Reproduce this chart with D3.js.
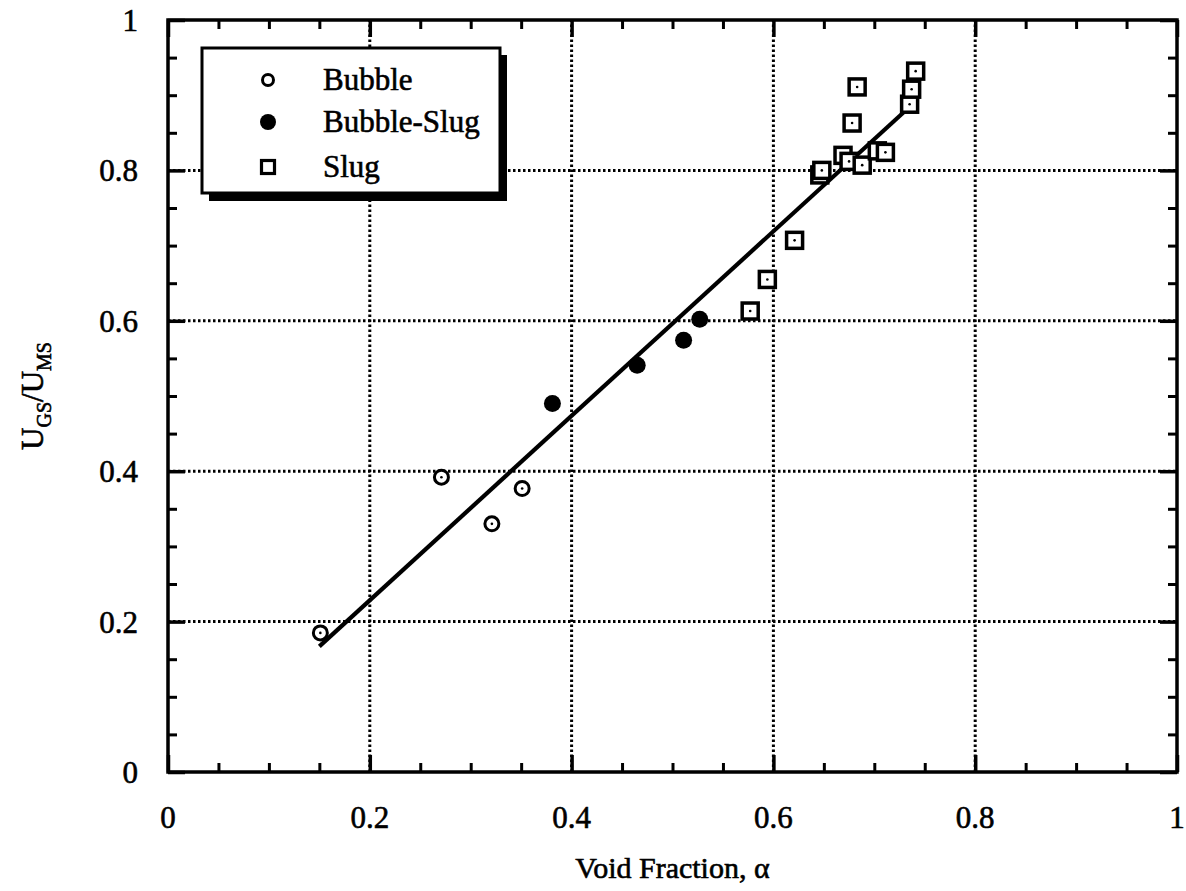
<!DOCTYPE html>
<html><head><meta charset="utf-8">
<script src="https://cdn.jsdelivr.net/npm/d3@7"></script>
<style>body{margin:0;background:#fff}svg{display:block}</style>
</head><body>
<script>
// Data
const bubbleX = [0.151, 0.271, 0.321, 0.351];
const bubbleY = [0.185, 0.392, 0.330, 0.377];
const bubbleSlugX = [0.381, 0.465, 0.511, 0.527];
const bubbleSlugY = [0.490, 0.541, 0.574, 0.602];
const slugX = [0.577, 0.594, 0.621, 0.646, 0.648, 0.669, 0.675, 0.678, 0.683, 0.688, 0.703, 0.711, 0.735, 0.737, 0.741];
const slugY = [0.613, 0.655, 0.707, 0.794, 0.800, 0.820, 0.812, 0.863, 0.911, 0.807, 0.826, 0.824, 0.888, 0.908, 0.932];
const fitX = [0.150, 0.737];
const fitY = [0.167, 0.887];
const tickValues = [0, 0.2, 0.4, 0.6, 0.8, 1];
const tickLabels = ["0", "0.2", "0.4", "0.6", "0.8", "1"];
const legendLabels = ["Bubble", "Bubble-Slug", "Slug"];

const W = 1186, H = 891;
const svg = d3.select("body").append("svg").attr("width", W).attr("height", H);
const x = d3.scaleLinear().domain([0, 1]).range([168, 1177]);
const y = d3.scaleLinear().domain([0, 1]).range([772, 20]);
const font = "'Liberation Serif', 'Times New Roman', serif";
const ink = sel => sel.attr("fill", "#000").attr("stroke", "#000").attr("stroke-width", 0.6);

// grid
const grid = svg.append("g").attr("stroke", "#000").attr("stroke-width", 3).attr("stroke-dasharray", "2.5,2.5");
[0.2, 0.4, 0.6, 0.8].forEach(v => {
  grid.append("line").attr("x1", x(v)).attr("x2", x(v)).attr("y1", y(0)).attr("y2", y(1));
  grid.append("line").attr("x1", x(0)).attr("x2", x(1)).attr("y1", y(v)).attr("y2", y(v));
});

// ticks (inward) via axes
const minor = d3.range(0, 1.0001, 0.05).filter(v => Math.abs(v * 5 - Math.round(v * 5)) > 1e-6);
function axisSet(axisFn, scale, tr) {
  svg.append("g").attr("transform", tr).call(axisFn(scale).tickValues(tickValues).tickSize(-17).tickFormat(""))
    .call(g => g.select(".domain").remove()).selectAll("line").attr("stroke-width", 3.5);
  svg.append("g").attr("transform", tr).call(axisFn(scale).tickValues(minor).tickSize(-9).tickFormat(""))
    .call(g => g.select(".domain").remove()).selectAll("line").attr("stroke-width", 3);
}
axisSet(d3.axisBottom, x, `translate(0,${y(0)})`);
axisSet(d3.axisTop, x, `translate(0,${y(1)})`);
axisSet(d3.axisLeft, y, `translate(${x(0)},0)`);
axisSet(d3.axisRight, y, `translate(${x(1)},0)`);

// frame
svg.append("rect").attr("x", x(0)).attr("y", y(1)).attr("width", x(1) - x(0)).attr("height", y(0) - y(1))
  .attr("fill", "none").attr("stroke", "#000").attr("stroke-width", 3.5);

// tick labels
svg.append("g").selectAll("text").data(tickValues).join("text")
  .attr("x", d => x(d)).attr("y", y(0) + 56).attr("text-anchor", "middle")
  .attr("font-family", font).attr("font-size", 31).call(ink).text((d, i) => tickLabels[i]);
svg.append("g").selectAll("text").data(tickValues).join("text")
  .attr("x", 138).attr("y", d => y(d) + 11).attr("text-anchor", "end")
  .attr("font-family", font).attr("font-size", 31).call(ink).text((d, i) => tickLabels[i]);

// axis titles
svg.append("text").attr("x", (x(0) + x(1)) / 2).attr("y", 878).attr("text-anchor", "middle")
  .attr("font-family", font).attr("font-size", 30).call(ink).text("Void Fraction, α");
const yl = svg.append("text").attr("transform", `translate(43,${(y(0) + y(1)) / 2}) rotate(-90)`)
  .attr("text-anchor", "middle").attr("font-family", font).attr("font-size", 31).call(ink);
yl.append("tspan").text("U");
yl.append("tspan").attr("font-size", 20).attr("dy", 8).text("GS");
yl.append("tspan").attr("dy", -8).text("/U");
yl.append("tspan").attr("font-size", 20).attr("dy", 8).text("MS");

// fit line
svg.append("path").datum(d3.zip(fitX, fitY))
  .attr("d", d3.line().x(d => x(d[0])).y(d => y(d[1])))
  .attr("stroke", "#000").attr("stroke-width", 4.2).attr("fill", "none");

// markers
const pts = svg.append("g");
d3.zip(bubbleX, bubbleY).forEach(([a, b]) => {
  pts.append("circle").attr("cx", x(a)).attr("cy", y(b)).attr("r", 7).attr("fill", "#fff").attr("stroke", "#000").attr("stroke-width", 3);
  pts.append("circle").attr("cx", x(a)).attr("cy", y(b)).attr("r", 1.3).attr("fill", "#000");
});
d3.zip(bubbleSlugX, bubbleSlugY).forEach(([a, b]) => {
  pts.append("circle").attr("cx", x(a)).attr("cy", y(b)).attr("r", 8.5).attr("fill", "#000");
});
d3.zip(slugX, slugY).forEach(([a, b]) => {
  pts.append("rect").attr("x", x(a) - 8).attr("y", y(b) - 8).attr("width", 16).attr("height", 16)
    .attr("fill", "#fff").attr("stroke", "#000").attr("stroke-width", 3.5);
  pts.append("circle").attr("cx", x(a)).attr("cy", y(b)).attr("r", 1.3).attr("fill", "#000");
});

// legend
const lg = svg.append("g");
lg.append("rect").attr("x", 209).attr("y", 55).attr("width", 298).attr("height", 146).attr("fill", "#000");
lg.append("rect").attr("x", 202).attr("y", 48).attr("width", 298).attr("height", 145).attr("fill", "#fff").attr("stroke", "#000").attr("stroke-width", 3);
const rowsY = [80, 122, 167];
lg.append("circle").attr("cx", 268).attr("cy", rowsY[0]).attr("r", 5.5).attr("fill", "#fff").attr("stroke", "#000").attr("stroke-width", 3);
lg.append("circle").attr("cx", 268).attr("cy", rowsY[1]).attr("r", 8).attr("fill", "#000");
lg.append("rect").attr("x", 261.5).attr("y", rowsY[2] - 6.5).attr("width", 13).attr("height", 13).attr("fill", "#fff").attr("stroke", "#000").attr("stroke-width", 3.2);
lg.selectAll("text.l").data(legendLabels).join("text").attr("class", "l")
  .attr("x", 323).attr("y", (d, i) => rowsY[i] + 10).attr("font-family", font).attr("font-size", 31).call(ink).text(d => d);
</script>
</body></html>
